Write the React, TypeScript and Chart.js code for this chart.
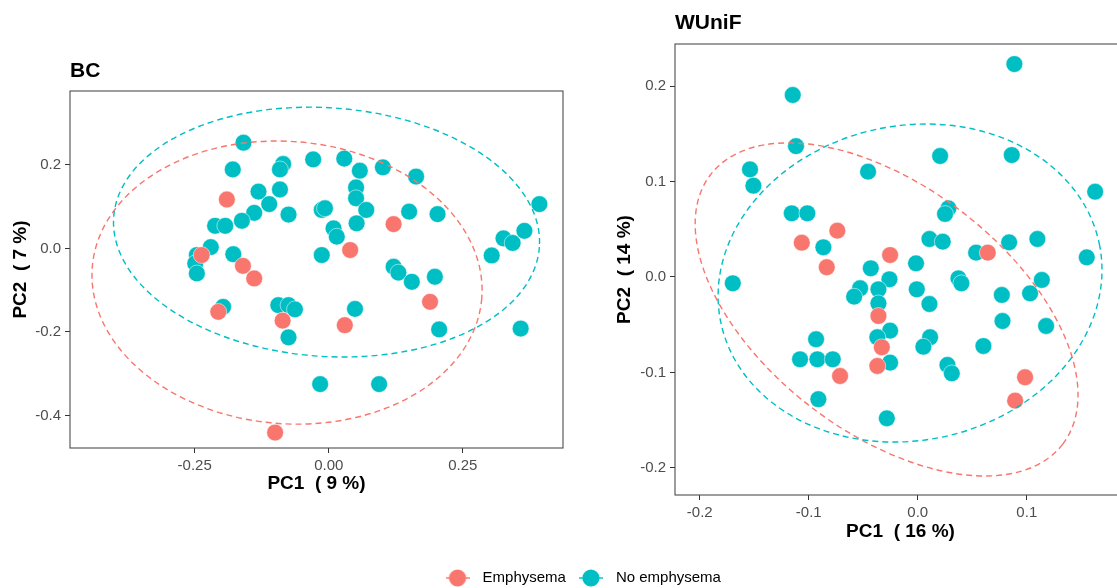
import React, { useEffect, useRef } from 'react';
import { Chart, registerables } from 'chart.js';

Chart.register(...registerables);

const GROUPS = ['Emphysema', 'No emphysema'];
const COLORS = ['#F8766D', '#00BFC4'];

// ---- BC panel ----
const BC_EMPH_X = [-0.190, -0.237, -0.160, -0.139, -0.206, -0.086, -0.100, 0.040, 0.121, 0.189, 0.030];
const BC_EMPH_Y = [0.117, -0.016, -0.042, -0.072, -0.152, -0.173, -0.441, -0.004, 0.058, -0.128, -0.184];
const BC_NOEMPH_X = [
  -0.159, -0.179, -0.085, -0.091, -0.029, 0.029, 0.058, 0.101, 0.163, -0.131,
  -0.091, 0.051, 0.051, -0.111, -0.139, -0.162, -0.075, -0.212, -0.193, -0.013,
  -0.007, 0.070, 0.150, 0.203, 0.009, 0.015, 0.052, -0.220, -0.246, -0.249,
  -0.246, -0.178, -0.013, -0.197, -0.094, -0.075, -0.063, -0.075, -0.016, 0.094,
  0.121, 0.130, 0.155, 0.198, 0.049, 0.206, 0.304, 0.326, 0.343, 0.365,
  0.393, 0.358,
];
const BC_NOEMPH_Y = [
  0.253, 0.189, 0.202, 0.189, 0.213, 0.215, 0.186, 0.194, 0.172, 0.136,
  0.141, 0.146, 0.120, 0.106, 0.085, 0.066, 0.081, 0.054, 0.054, 0.092,
  0.096, 0.092, 0.088, 0.082, 0.048, 0.028, 0.060, 0.003, -0.016, -0.036,
  -0.060, -0.014, -0.016, -0.140, -0.136, -0.136, -0.146, -0.213, -0.325, -0.325,
  -0.044, -0.058, -0.080, -0.068, -0.145, -0.194, -0.017, 0.024, 0.013, 0.042,
  0.106, -0.192,
];
const BC_X_TICKS = [-0.25, 0, 0.25];
const BC_X_LABELS = ['-0.25', '0.00', '0.25'];
const BC_Y_TICKS = [-0.4, -0.2, 0, 0.2];
const BC_Y_LABELS = ['-0.4', '-0.2', '0.0', '0.2'];
// confidence ellipses (per group: Emphysema, No emphysema)
const BC_ELL_CX = [-0.0778, -0.0041];
const BC_ELL_CY = [-0.0819, 0.039];
const BC_ELL_A = [0.3644, 0.398];
const BC_ELL_B = [0.338, 0.2977];
const BC_ELL_ROT = [4.6, 4];

// ---- WUniF panel ----
const WU_EMPH_X = [-0.0738, -0.1064, -0.0835, -0.0254, 0.0642, -0.0361, -0.033, -0.0371, -0.0713, 0.0984, 0.0893];
const WU_EMPH_Y = [0.0485, 0.0359, 0.0102, 0.023, 0.0255, -0.0408, -0.0736, -0.0932, -0.1037, -0.105, -0.1295];
const WU_NOEMPH_X = [
  -0.1147, -0.1117, -0.1539, -0.1508, -0.1156, -0.1013, -0.0866, -0.1697, -0.0456, 0.0886,
  0.0205, 0.0862, 0.1627, 0.0281, 0.025, 0.0107, 0.0229, 0.0535, 0.0838, 0.1097,
  0.155, -0.0431, -0.0016, -0.026, 0.0373, 0.040, 0.1138, -0.0529, -0.0584, -0.0361,
  -0.0361, -0.0009, 0.0107, 0.0771, 0.103, 0.0777, 0.1177, -0.0254, -0.0371, 0.0113,
  0.0051, 0.0602, -0.0254, 0.0272, 0.0312, -0.0284, -0.0933, -0.108, -0.0921, -0.078,
  -0.0912,
];
const WU_NOEMPH_Y = [
  0.1906, 0.137, 0.1127, 0.0956, 0.0667, 0.0667, 0.0311, -0.0066, 0.1103, 0.223,
  0.1267, 0.1277, 0.0893, 0.0719, 0.066, 0.0398, 0.037, 0.0255, 0.0363, 0.0398,
  0.0206, 0.0091, 0.0143, -0.0024, -0.0014, -0.0066, -0.0031, -0.0118, -0.0206, -0.0129,
  -0.0276, -0.0129, -0.0283, -0.0188, -0.0171, -0.0461, -0.0513, -0.0562, -0.0631, -0.0631,
  -0.073, -0.0723, -0.0897, -0.0921, -0.1009, -0.148, -0.0652, -0.0862, -0.0862, -0.0862,
  -0.128,
];
const WU_X_TICKS = [-0.2, -0.1, 0, 0.1];
const WU_X_LABELS = ['-0.2', '-0.1', '0.0', '0.1'];
const WU_Y_TICKS = [-0.2, -0.1, 0, 0.1, 0.2];
const WU_Y_LABELS = ['-0.2', '-0.1', '0.0', '0.1', '0.2'];
const WU_ELL_CX = [-0.0286, -0.0071];
const WU_ELL_CY = [-0.034, -0.0063];
const WU_ELL_A = [0.2034, 0.1773];
const WU_ELL_B = [0.1292, 0.1648];
const WU_ELL_ROT = [37.4, -11.7];

const FONT = "'Liberation Sans', Arial, Helvetica, sans-serif";

type Ell = { cx: number[]; cy: number[]; a: number[]; b: number[]; rot: number[] };

type PanelSpec = {
  title: string;
  xTitle: string;
  yTitle: string;
  xMin: number; xMax: number; yMin: number; yMax: number;
  xTicks: number[]; xLabels: string[]; yTicks: number[]; yLabels: string[];
  yAxisWidth: number; xAxisHeight: number;
  padding: { top: number; right: number; left: number; bottom: number };
  yTitlePad: number; xTitlePad: number; titleBaseline: number;
  series: { x: number[]; y: number[] }[];
  ell: Ell;
};

const zip = (xs: number[], ys: number[]) => xs.map((x, i) => ({ x, y: ys[i] }));

function makeConfig(p: PanelSpec): any {
  const decor = {
    id: 'decor',
    afterDatasetsDraw(chart: any) {
      const { ctx, chartArea: ca } = chart;
      const xs = chart.scales.x;
      const ys = chart.scales.y;
      ctx.save();
      ctx.beginPath();
      ctx.rect(ca.left, ca.top, ca.right - ca.left, ca.bottom - ca.top);
      ctx.clip();
      for (let i = 0; i < GROUPS.length; i++) {
        const cx = xs.getPixelForValue(p.ell.cx[i]);
        const cy = ys.getPixelForValue(p.ell.cy[i]);
        const rx = Math.abs(xs.getPixelForValue(p.ell.cx[i] + p.ell.a[i]) - cx);
        const ry = Math.abs(ys.getPixelForValue(p.ell.cy[i] + p.ell.b[i]) - cy);
        ctx.beginPath();
        ctx.ellipse(cx, cy, rx, ry, (p.ell.rot[i] * Math.PI) / 180, 0, Math.PI * 2);
        ctx.setLineDash([6, 4]);
        ctx.lineWidth = 1.4;
        ctx.strokeStyle = COLORS[i];
        ctx.stroke();
      }
      ctx.restore();
    },
    afterDraw(chart: any) {
      const { ctx, chartArea: ca } = chart;
      ctx.save();
      ctx.setLineDash([]);
      ctx.strokeStyle = '#4D4D4D';
      ctx.lineWidth = 1.1;
      ctx.strokeRect(ca.left, ca.top, ca.right - ca.left, ca.bottom - ca.top);
      ctx.fillStyle = '#000';
      ctx.font = `bold 21px ${FONT}`;
      ctx.textAlign = 'left';
      ctx.textBaseline = 'alphabetic';
      ctx.fillText(p.title, ca.left, p.titleBaseline);
      ctx.restore();
    },
  };

  const tickFont = { family: FONT, size: 15 };
  const titleFont = { family: FONT, size: 19, weight: 'bold' as const };

  return {
    type: 'scatter',
    data: {
      datasets: p.series.map((s, i) => ({
        label: GROUPS[i],
        data: zip(s.x, s.y),
        backgroundColor: COLORS[i],
        borderColor: 'rgba(255,255,255,0.85)',
        borderWidth: 0.6,
        pointRadius: 8.4,
        pointHoverRadius: 8.4,
      })),
    },
    options: {
      responsive: false,
      animation: false,
      devicePixelRatio: 1,
      events: [],
      layout: { padding: p.padding },
      plugins: { legend: { display: false }, title: { display: false }, tooltip: { enabled: false } },
      scales: {
        x: {
          type: 'linear',
          min: p.xMin,
          max: p.xMax,
          afterBuildTicks: (s: any) => { s.ticks = p.xTicks.map((v) => ({ value: v })); },
          afterFit: (s: any) => { s.height = p.xAxisHeight; },
          ticks: {
            autoSkip: false, maxRotation: 0, padding: 3.5, font: tickFont, color: '#4D4D4D',
            callback: (_v: any, idx: number) => p.xLabels[idx],
          },
          grid: { drawOnChartArea: false, drawTicks: true, tickLength: 5, tickColor: '#333333', tickWidth: 1 },
          border: { display: false },
          title: { display: true, text: p.xTitle, font: titleFont, color: '#000', padding: { top: 0, bottom: p.xTitlePad } },
        },
        y: {
          type: 'linear',
          min: p.yMin,
          max: p.yMax,
          afterBuildTicks: (s: any) => { s.ticks = p.yTicks.map((v) => ({ value: v })); },
          afterFit: (s: any) => { s.width = p.yAxisWidth; },
          ticks: {
            autoSkip: false, padding: 4, font: tickFont, color: '#4D4D4D',
            callback: (_v: any, idx: number) => p.yLabels[idx],
          },
          grid: { drawOnChartArea: false, drawTicks: true, tickLength: 5, tickColor: '#333333', tickWidth: 1 },
          border: { display: false },
          title: { display: true, text: p.yTitle, font: titleFont, color: '#000', padding: { top: p.yTitlePad, bottom: 0 } },
        },
      },
    },
    plugins: [decor],
  };
}

const BC_SPEC: PanelSpec = {
  title: 'BC',
  xTitle: 'PC1  ( 9 %)',
  yTitle: 'PC2  ( 7 %)',
  xMin: -0.4826, xMax: 0.437, yMin: -0.478, yMax: 0.3768,
  xTicks: BC_X_TICKS, xLabels: BC_X_LABELS, yTicks: BC_Y_TICKS, yLabels: BC_Y_LABELS,
  yAxisWidth: 70, xAxisHeight: 52,
  padding: { top: 91, right: 17, left: 0, bottom: 0 },
  yTitlePad: 9, xTitlePad: 5, titleBaseline: 76.5,
  series: [{ x: BC_EMPH_X, y: BC_EMPH_Y }, { x: BC_NOEMPH_X, y: BC_NOEMPH_Y }],
  ell: { cx: BC_ELL_CX, cy: BC_ELL_CY, a: BC_ELL_A, b: BC_ELL_B, rot: BC_ELL_ROT },
};

const WU_SPEC: PanelSpec = {
  title: 'WUniF',
  xTitle: 'PC1  ( 16 %)',
  yTitle: 'PC2  ( 14 %)',
  xMin: -0.2227, xMax: 0.191, yMin: -0.2283, yMax: 0.244,
  xTicks: WU_X_TICKS, xLabels: WU_X_LABELS, yTicks: WU_Y_TICKS, yLabels: WU_Y_LABELS,
  yAxisWidth: 75, xAxisHeight: 50,
  padding: { top: 44, right: 14, left: 0, bottom: 0 },
  yTitlePad: 13, xTitlePad: 2, titleBaseline: 29.3,
  series: [{ x: WU_EMPH_X, y: WU_EMPH_Y }, { x: WU_NOEMPH_X, y: WU_NOEMPH_Y }],
  ell: { cx: WU_ELL_CX, cy: WU_ELL_CY, a: WU_ELL_A, b: WU_ELL_B, rot: WU_ELL_ROT },
};

function Panel({ spec, left, top, width, height }: { spec: PanelSpec; left: number; top: number; width: number; height: number }) {
  const ref = useRef<HTMLCanvasElement | null>(null);
  useEffect(() => {
    if (!ref.current) return;
    const chart = new Chart(ref.current, makeConfig(spec));
    return () => chart.destroy();
  }, [spec]);
  return (
    <canvas
      ref={ref}
      width={width}
      height={height}
      style={{ position: 'absolute', left, top, width, height }}
    />
  );
}

function makeKey(color: string): HTMLCanvasElement {
  const c = document.createElement('canvas');
  c.width = 24;
  c.height = 20;
  const ctx = c.getContext('2d')!;
  ctx.strokeStyle = color;
  ctx.lineWidth = 1.4;
  ctx.beginPath();
  ctx.moveTo(0, 10);
  ctx.lineTo(24, 10);
  ctx.stroke();
  ctx.fillStyle = color;
  ctx.beginPath();
  ctx.arc(12, 10, 8.6, 0, Math.PI * 2);
  ctx.fill();
  return c;
}

function Legend({ left, top, width, height }: { left: number; top: number; width: number; height: number }) {
  const ref = useRef<HTMLCanvasElement | null>(null);
  useEffect(() => {
    if (!ref.current) return;
    const keys = COLORS.map(makeKey);
    const chart = new Chart(ref.current, {
      type: 'scatter',
      data: {
        datasets: GROUPS.map((g, i) => ({ label: g, data: [], backgroundColor: COLORS[i] })),
      },
      options: {
        responsive: false,
        animation: false,
        devicePixelRatio: 1,
        events: [],
        layout: { padding: 0 },
        scales: { x: { display: false }, y: { display: false } },
        plugins: {
          tooltip: { enabled: false },
          legend: {
            display: true,
            position: 'top',
            labels: {
              usePointStyle: true,
              pointStyleWidth: 35,
              padding: 7.5,
              color: '#000',
              font: { family: FONT, size: 15 },
              generateLabels: (ch: any) =>
                ch.data.datasets.map((d: any, i: number) => ({
                  text: d.label,
                  pointStyle: keys[i],
                  fillStyle: COLORS[i],
                  strokeStyle: COLORS[i],
                  lineWidth: 0,
                  hidden: false,
                  datasetIndex: i,
                })),
            },
          },
        },
      } as any,
    } as any);
    return () => chart.destroy();
  }, []);
  return (
    <canvas
      ref={ref}
      width={width}
      height={height}
      style={{ position: 'absolute', left, top, width, height }}
    />
  );
}

export default function App() {
  return (
    <div
      style={{
        position: 'absolute',
        left: 0,
        top: 0,
        width: 1117,
        height: 588,
        overflow: 'hidden',
        background: '#ffffff',
      }}
    >
      <Panel spec={BC_SPEC} left={0} top={0} width={580} height={500} />
      <Panel spec={WU_SPEC} left={600} top={0} width={540} height={545} />
      <Legend left={0} top={563} width={1161} height={90} />
    </div>
  );
}
